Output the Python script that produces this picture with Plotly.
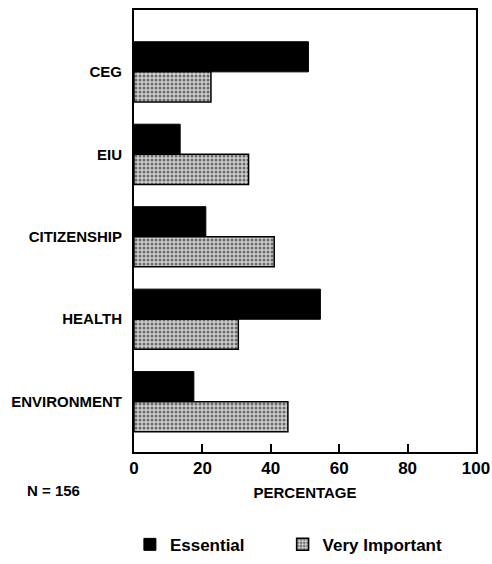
import plotly.graph_objects as go

categories = ["CEG", "EIU", "CITIZENSHIP", "HEALTH", "ENVIRONMENT"]
essential = [51, 13.5, 21, 54.5, 17.5]
very_important = [22.5, 33.5, 41, 30.5, 45]
x_ticks = [0, 20, 40, 60, 80, 100]

REG = "Liberation Sans, Arial, Helvetica, sans-serif"
PAD = "\u00a0" * 7

fig = go.Figure()
fig.add_trace(go.Bar(
    y=categories, x=essential, orientation="h", name="Essential" + PAD,
    marker=dict(color="black", line=dict(color="black", width=1)),
))
fig.add_trace(go.Bar(
    y=categories, x=very_important, orientation="h", name="Very Important",
    marker=dict(color="#d0d0d0", line=dict(color="black", width=1.5),
                pattern=dict(shape=".", fgcolor="#6a6a6a", bgcolor="#d0d0d0",
                             size=4, solidity=0.45, fillmode="replace")),
))

fig.update_layout(
    width=492, height=564,
    margin=dict(l=134, r=16, t=10, b=112, autoexpand=False),
    paper_bgcolor="white", plot_bgcolor="white",
    barmode="group", bargap=0.27, bargroupgap=0,
    showlegend=True,
    legend=dict(orientation="h", x=-0.012, xanchor="left", y=-0.21, yanchor="middle",
                font=dict(family=REG, size=17, color="black", weight="bold"),
                itemwidth=30, traceorder="normal"),
    xaxis=dict(range=[0, 100], tickvals=x_ticks, ticks="inside", ticklen=8,
               tickwidth=1.5, tickcolor="black", showgrid=False, zeroline=False,
               showline=True, linecolor="black", linewidth=2, mirror=True,
               automargin=False,
               tickfont=dict(family=REG, size=17, color="black", weight="bold"),
               title=dict(text="PERCENTAGE", standoff=10,
                          font=dict(family=REG, size=15, color="black", weight="bold"))),
    yaxis=dict(categoryorder="array", categoryarray=categories,
               range=[4.61, -0.75], showgrid=False, zeroline=False, ticks="",
               showline=True, linecolor="black", linewidth=2, mirror=True,
               automargin=False, ticklabelstandoff=7,
               tickfont=dict(family=REG, size=15, color="black", weight="bold")),
    annotations=[dict(text="N = 156", xref="paper", yref="paper", x=-0.32, y=-0.086,
                      xanchor="left", yanchor="middle", showarrow=False,
                      font=dict(family=REG, size=15, color="black", weight="bold"))],
)

fig.write_html("out.html", config={"displayModeBar": False},
               post_script="document.body.style.margin='0';")
